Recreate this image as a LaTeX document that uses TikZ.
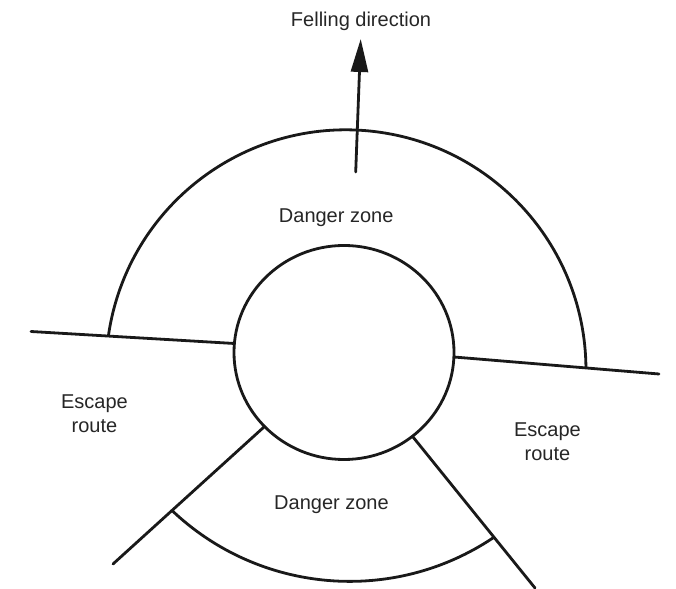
\documentclass[tikz,border=0pt]{standalone}
\usepackage{fontspec}
\setmainfont{Liberation Sans}
\usetikzlibrary{arrows.meta,calc}

\begin{document}
\begin{tikzpicture}[x=1pt,y=1pt,
  zone/.style={line width=2.8pt,draw=black!90,line cap=round},
  lbl/.style={font=\fontsize{20}{24}\selectfont,text=black!85,align=center}]
  \useasboundingbox (0,0) rectangle (676,588);

  \coordinate (O) at (344,235.5);
  \coordinate (L1) at (31,256.5);
  \coordinate (L2) at (234.4,244.5);
  \coordinate (R1) at (454,231);
  \coordinate (R2) at (659,214);
  \coordinate (D1) at (264,161);
  \coordinate (D2) at (113,24);
  \coordinate (E1) at (413,151);
  \coordinate (E2) at (535,0);
  \coordinate (U1) at (108.5,252.8);
  \coordinate (P1) at (172,77.5);
  \coordinate (S) at (355.7,416);
  \coordinate (T) at (360.7,549);

  \draw[zone] (O) ellipse [x radius=110,y radius=107];
  \draw[zone] (L1) -- (L2);
  \draw[zone] (R1) -- (R2);
  \draw[zone] (D1) -- (D2);
  \draw[zone] (E1) -- (E2);
  \draw[zone] (U1) arc[start angle=171.7,end angle=0.7,radius=240];
  \draw[zone] (P1) arc[start angle=226.5,end angle=304,radius=258.1];
  \draw[zone,-{Triangle[length=33pt,width=17pt]}] (S) -- (T);

  \node[lbl,anchor=base] (fell) at (361,561.3) {Felling direction};
  \node[lbl,anchor=base] (top) at (336.2,365.3) {Danger zone};
  \node[lbl,anchor=base] (bot) at (331.5,78) {Danger zone};
  \node[lbl] (escl) at (94.5,173.8) {Escape\\route};
  \node[lbl] (escr) at (547.5,146.4) {Escape\\route};
\end{tikzpicture}
\end{document}
